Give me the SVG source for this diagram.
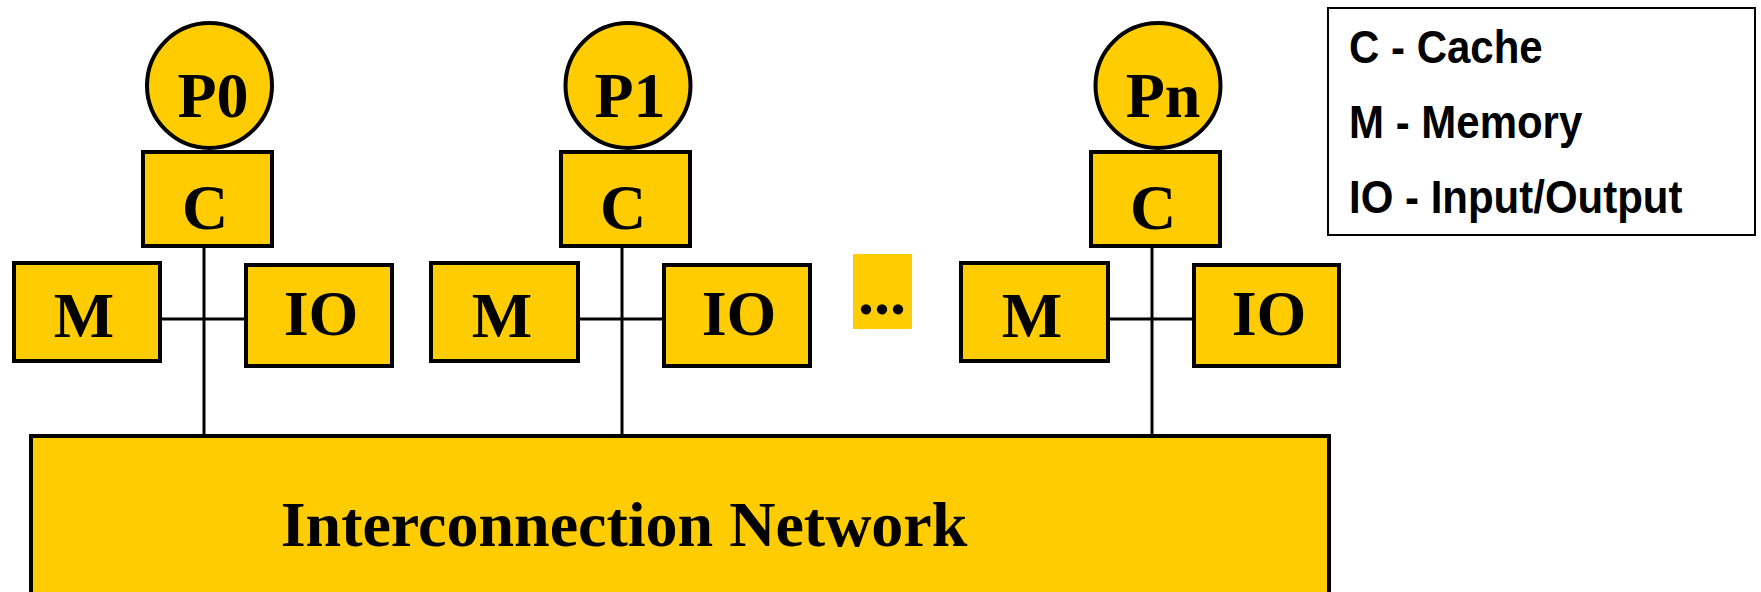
<svg xmlns="http://www.w3.org/2000/svg" width="1761" height="592" viewBox="0 0 1761 592">
  <style>
    .blk { fill: #FFCC00; stroke: #000; stroke-width: 4; }
    .lbl { font-family: "Liberation Serif", "Times New Roman", serif; font-weight: bold; font-size: 64px; fill: #000; text-anchor: middle; }
    .key { font-family: "Liberation Sans", Arial, sans-serif; font-weight: bold; font-size: 42px; fill: #000; }
    .wire { stroke: #000; stroke-width: 3; fill: none; }
  </style>
  <rect width="1761" height="592" fill="#fff"/>

  <!-- links between caches, memories, IO and the network -->
  <g id="connectors">
    <line class="wire" x1="204" y1="248" x2="204" y2="436"/>
    <line class="wire" x1="160" y1="319" x2="246" y2="319"/>
    <line class="wire" x1="622" y1="248" x2="622" y2="436"/>
    <line class="wire" x1="578" y1="319" x2="664" y2="319"/>
    <line class="wire" x1="1152" y1="248" x2="1152" y2="436"/>
    <line class="wire" x1="1108" y1="319" x2="1194" y2="319"/>
  </g>

  <!-- node 0 -->
  <g id="c0"><rect class="blk" x="143" y="152" width="129" height="94"/><text class="lbl" x="205" y="229">C</text></g>
  <g id="p0"><circle class="blk" cx="209.5" cy="85.5" r="62.5"/><text class="lbl" x="213" y="117">P0</text></g>
  <g id="m0"><rect class="blk" x="14" y="263" width="146" height="98"/><text class="lbl" x="84" y="337">M</text></g>
  <g id="io0"><rect class="blk" x="246" y="265" width="146" height="101"/><text class="lbl" x="321" y="335">IO</text></g>

  <!-- node 1 -->
  <g id="c1"><rect class="blk" x="561" y="152" width="129" height="94"/><text class="lbl" x="623" y="229">C</text></g>
  <g id="p1"><circle class="blk" cx="628" cy="85.5" r="62.5"/><text class="lbl" x="630" y="117">P1</text></g>
  <g id="m1"><rect class="blk" x="431" y="263" width="147" height="98"/><text class="lbl" x="502" y="337">M</text></g>
  <g id="io1"><rect class="blk" x="664" y="265" width="146" height="101"/><text class="lbl" x="739" y="335">IO</text></g>

  <!-- ellipsis marker -->
  <g id="more"><rect x="853" y="254" width="59" height="75" fill="#FFCC00"/><text class="lbl" x="882" y="314">...</text></g>

  <!-- node n -->
  <g id="cn"><rect class="blk" x="1091" y="152" width="129" height="94"/><text class="lbl" x="1153" y="229">C</text></g>
  <g id="pn"><circle class="blk" cx="1158" cy="85.5" r="62.5"/><text class="lbl" x="1163" y="117">Pn</text></g>
  <g id="mn"><rect class="blk" x="961" y="263" width="147" height="98"/><text class="lbl" x="1032" y="337">M</text></g>
  <g id="ion"><rect class="blk" x="1194" y="265" width="145" height="101"/><text class="lbl" x="1269" y="335">IO</text></g>

  <!-- interconnection network -->
  <g id="network"><rect class="blk" x="31" y="436" width="1298" height="200"/><text class="lbl" x="624" y="546">Interconnection Network</text></g>

  <!-- legend -->
  <g id="legend">
    <rect x="1328" y="8" width="427" height="227" fill="#fff" stroke="#000" stroke-width="2"/>
    <text class="key" transform="translate(1349,63) scale(1,1.08)">C - Cache</text>
    <text class="key" transform="translate(1349,138) scale(1,1.08)">M - Memory</text>
    <text class="key" transform="translate(1349,213) scale(1,1.08)">IO - Input/Output</text>
  </g>
</svg>
